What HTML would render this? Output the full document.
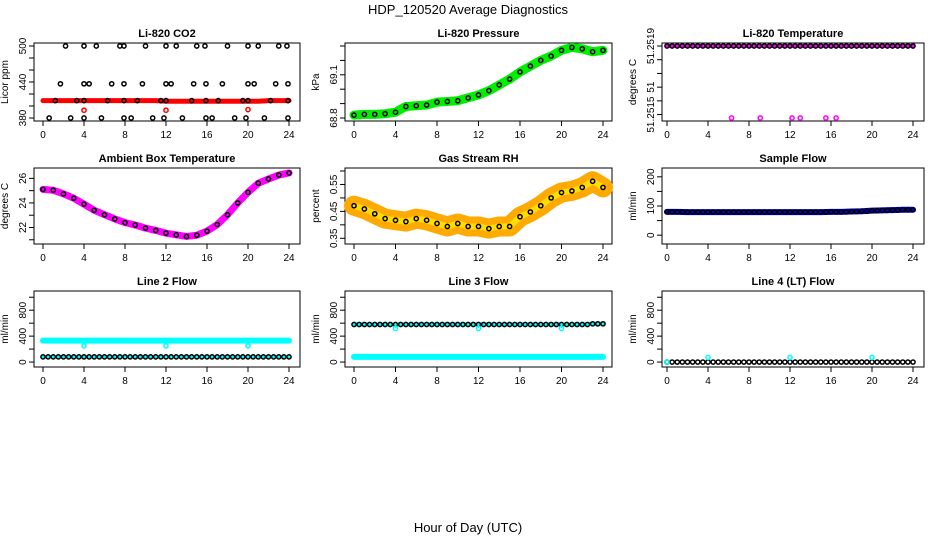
<!DOCTYPE html>
<html><head><meta charset="utf-8"><style>
body{margin:0;background:#fff;}
svg{display:block;font-family:"Liberation Sans",Arial,sans-serif;}
</style></head><body>
<svg id="c" width="936" height="540" xmlns="http://www.w3.org/2000/svg">
<text x="468" y="14" text-anchor="middle" font-size="13">HDP_120520  Average Diagnostics</text>
<text x="468" y="532" text-anchor="middle" font-size="13">Hour of Day (UTC)</text>
</svg>
<script>
const hours=[0,1,2,3,4,5,6,7,8,9,10,11,12,13,14,15,16,17,18,19,20,21,22,23,24];
const xTicks=[0,4,8,12,16,20,24];
// CO2
const co2Band=[409,409,409,409,409,409,409,409,409,409,409,409,408,408,408,408,408,408,408,408,408,408,409,409,409];
const co2TopX=[2.2,4,5.2,7.5,7.9,10,12,13,15,15.8,18,20,21,23,23.8];
const co2MidX=[1.7,4,4.5,6.7,7.9,9.7,12,12.5,14.7,15.9,17.5,20,20.6,22.7,23.9];
const co2BandX=[1.2,3.3,4,6.3,7.9,9.2,11.5,12,14.5,15.9,17.1,19.5,20,22.2,23.9];
const co2LowX=[0.6,2.7,4,5.7,7.9,8.6,10.7,11.8,13.6,15.9,16.5,18.7,19.8,21.6,23.9];
const co2Levels=[500,437,409,380];
const co2RedX=[4,12,20];
const co2RedY=[393,393,394];
// Pressure
const pres=[68.82,68.825,68.825,68.83,68.84,68.88,68.885,68.89,68.91,68.915,68.92,68.94,68.96,68.99,69.03,69.07,69.12,69.16,69.2,69.23,69.27,69.29,69.28,69.26,69.27];
// Li-820 temperature
const ltempTop=[51.2519,51.2519,51.2519,51.2519,51.2519,51.2519,51.2519,51.2519,51.2519,51.2519,51.2519,51.2519,51.2519,51.2519,51.2519,51.2519,51.2519,51.2519,51.2519,51.2519,51.2519,51.2519,51.2519,51.2519,51.2519];
const ltempLowX=[6.3,9.1,12.2,13,15.5,16.5];
const ltempLowVal=51.25148;
// Ambient
const amb=[25.1,25.03,24.74,24.38,23.9,23.4,23.04,22.7,22.4,22.2,21.95,21.76,21.54,21.4,21.27,21.37,21.7,22.24,23.04,24.0,24.86,25.6,25.95,26.27,26.44];
// RH
const rh=[0.471,0.459,0.441,0.423,0.417,0.412,0.423,0.417,0.405,0.394,0.405,0.394,0.394,0.386,0.394,0.394,0.43,0.448,0.471,0.5,0.52,0.526,0.539,0.562,0.539];
// Sample flow
const sflow=[80,80,79,79,79,79,79,79,79,79,79,79,79,79,79,79,80,80,81,82,84,85,86,87,87];
// Line flows
const l2hi=[330,330,330,330,330,330,330,330,330,330,330,330,330,330,330,330,330,330,330,330,330,330,330,330,330];
const l2lo=[80,80,80,80,80,80,80,80,80,80,80,80,80,80,80,80,80,80,80,80,80,80,80,80,80];
const l3hi=[580,580,580,580,580,580,580,580,580,580,580,580,580,580,580,580,580,580,580,580,580,580,580,590,590];
const l3lo=[80,80,80,80,80,80,80,80,80,80,80,80,80,80,80,80,80,80,80,80,80,80,80,80,80];
const l4=[0,0,0,0,0,0,0,0,0,0,0,0,0,0,0,0,0,0,0,0,0,0,0,0,0];
const dipX=[4,12,20];
const l2dip=[250,250,250];
const l3dip=[520,520,520];
const l4dip=[70,70,70];

const NS="http://www.w3.org/2000/svg";
const svg=document.getElementById('c');
const boxL=[34,345,662],boxR=[300,612,924],X0=[43,354,667],X24=[289,603,913];
const boxT=[43,168,291],boxB=[121,244,367];
function mk(tag,attrs,parent){const e=document.createElementNS(NS,tag);for(const k in attrs)e.setAttribute(k,attrs[k]);(parent||svg).appendChild(e);return e;}

function panel(col,row,title,ytitle,ymin,ymax,yTicks,yLabels){
  const g=mk('g',{});
  
  
  const xs=v=>X0[col]+(v/24)*(X24[col]-X0[col]);
  const ys=v=>boxB[row]-3-(v-ymin)/(ymax-ymin)*(boxB[row]-boxT[row]-6);
  const t=mk('text',{x:(boxL[col]+boxR[col])/2,y:boxT[row]-6,'text-anchor':'middle','font-size':11,'font-weight':'bold'},g);
  t.textContent=title;
  
  
  const r=mk('rect',{x:boxL[col],y:boxT[row],width:boxR[col]-boxL[col],height:boxB[row]-boxT[row],fill:'none',stroke:'#000','stroke-width':1},g);
  
  
  xTicks.forEach(v=>{
    mk('line',{x1:xs(v),x2:xs(v),y1:boxB[row],y2:boxB[row]+5,stroke:'#000'},g);
    const l=mk('text',{x:xs(v),y:boxB[row]+17,'text-anchor':'middle','font-size':10},g);
    l.textContent=v;
    
    
  });
  yTicks.forEach(v=>{mk('line',{x1:boxL[col]-5,x2:boxL[col],y1:ys(v),y2:ys(v),stroke:'#000'},g);});
  yLabels.forEach(p=>{
    const y=ys(p[0]);const x=boxL[col]-8;
    const l=mk('text',{x:x,y:y,'text-anchor':'middle','font-size':10,transform:`rotate(-90 ${x} ${y})`},g);
    l.textContent=p[1];
    
    
  });
  const yx=boxL[col]-26,ym=(boxT[row]+boxB[row])/2;
  const yt=mk('text',{x:yx,y:ym,'text-anchor':'middle','font-size':10,transform:`rotate(-90 ${yx} ${ym})`},g);
  yt.textContent=ytitle;
  
  
  return {g,xs,ys};
}
function band(p,xv,yv,color,w,name){
  const pts=xv.map((x,i)=>p.xs(x)+','+p.ys(yv[i])).join(' ');
  const e=mk('polyline',{points:pts,fill:'none',stroke:color,'stroke-width':w,'stroke-linecap':'round','stroke-linejoin':'round'},p.g);
  
  
}
function pts(p,xv,yv,color,name,r){
  xv.forEach((x,i)=>{
    const y=Array.isArray(yv)?yv[i]:yv;
    const c=mk('circle',{cx:p.xs(x),cy:p.ys(y),r:r||2.1,fill:'none',stroke:color,'stroke-width':1.5},p.g);
    
    
  });
}
// Panel 1 CO2
let p=panel(0,0,'Li-820 CO2','Licor ppm',380,500,[380,400,420,440,460,480,500],[[380,'380'],[440,'440'],[500,'500']]);
band(p,hours,co2Band,'#ff0000',5,'co2-red-series');
pts(p,co2TopX,co2Levels[0],'#000','co2-point');
pts(p,co2MidX,co2Levels[1],'#000','co2-point');
pts(p,co2BandX,co2Levels[2],'#000','co2-point');
pts(p,co2LowX,co2Levels[3],'#000','co2-point');
pts(p,co2RedX,co2RedY,'#ff0000','co2-red-point');
// Panel 2 Pressure
p=panel(1,0,'Li-820 Pressure','kPa',68.8,69.3,[68.8,68.9,69.0,69.1,69.2,69.3],[[68.8,'68.8'],[69.1,'69.1']]);
band(p,hours,pres,'#00ee00',9,'pressure-green-band');
pts(p,hours,pres,'#000','pressure-point');
// Panel 3 Li-820 temp
p=panel(2,0,'Li-820 Temperature','degrees C',51.25148,51.2519,[51.2515,51.25158,51.25166,51.25174,51.25182,51.2519],[[51.2515,'51.2515'],[51.2519,'51.2519'],[51.25166,'51']]);
band(p,hours,ltempTop,'#ff00ff',4,'li820-temp-magenta');
pts(p,hours,ltempTop,'#000','li820-temp-point');
pts(p,hours.map(h=>h+0.5).slice(0,24),ltempTop.slice(0,24),'#000','li820-temp-point');
pts(p,ltempLowX,ltempLowVal,'#ff00ff','li820-temp-low-point');
// Panel 4 Ambient
p=panel(0,1,'Ambient Box Temperature','degrees C',20.9,26.6,[21,22,23,24,25,26],[[22,'22'],[24,'24'],[26,'26']]);
band(p,hours,amb,'#ff00ff',7,'ambient-magenta-band');
pts(p,hours,amb,'#000','ambient-point');
// Panel 5 RH
p=panel(1,1,'Gas Stream RH','percent',0.34,0.6,[0.35,0.4,0.45,0.5,0.55,0.6],[[0.35,'0.35'],[0.45,'0.45'],[0.55,'0.55']]);
band(p,hours,rh,'#ffaa00',20,'rh-orange-band');
band(p,hours,rh,'#ffdd00',6,'rh-yellow-band');
pts(p,hours,rh,'#000','rh-point');
// Panel 6 Sample flow
p=panel(2,1,'Sample Flow','ml/min',-20,220,[0,50,100,150,200],[[0,'0'],[100,'100'],[200,'200']]);
band(p,hours,sflow,'#0000cc',6,'sample-flow-blue-band');
pts(p,hours,sflow,'#000','sample-flow-point');
pts(p,hours.map(h=>h+0.5).slice(0,24),sflow.slice(0,24),'#000','sample-flow-point');
// Panel 7 Line 2
p=panel(0,2,'Line 2 Flow','ml/min',-30,1050,[0,200,400,600,800,1000],[[0,'0'],[400,'400'],[800,'800']]);
band(p,hours,l2hi,'#00ffff',6,'line2-cyan-band');
band(p,hours,l2lo,'#00ffff',3,'line2-cyan-low');
pts(p,hours,l2lo,'#000','line2-point');
pts(p,hours.map(h=>h+0.5).slice(0,24),l2lo.slice(0,24),'#000','line2-point');
pts(p,dipX,l2dip,'#00ffff','line2-dip-point');
// Panel 8 Line 3
p=panel(1,2,'Line 3 Flow','ml/min',-30,1050,[0,200,400,600,800,1000],[[0,'0'],[400,'400'],[800,'800']]);
band(p,hours,l3lo,'#00ffff',6,'line3-cyan-low-band');
band(p,hours,l3hi,'#00ffff',4,'line3-cyan-high-band');
pts(p,hours,l3hi,'#000','line3-point');
pts(p,hours.map(h=>h+0.5).slice(0,24),l3hi.slice(0,24),'#000','line3-point');
pts(p,dipX,l3dip,'#00ffff','line3-dip-point');
// Panel 9 Line 4
p=panel(2,2,'Line 4 (LT) Flow','ml/min',-30,1050,[0,200,400,600,800,1000],[[0,'0'],[400,'400'],[800,'800']]);
pts(p,hours,l4,'#000','line4-point');
pts(p,hours.map(h=>h+0.5).slice(0,24),l4.slice(0,24),'#000','line4-point');
pts(p,[0],[0],'#00ffff','line4-cyan-point');
pts(p,dipX,l4dip,'#00ffff','line4-dip-point');
</script>
</body></html>
